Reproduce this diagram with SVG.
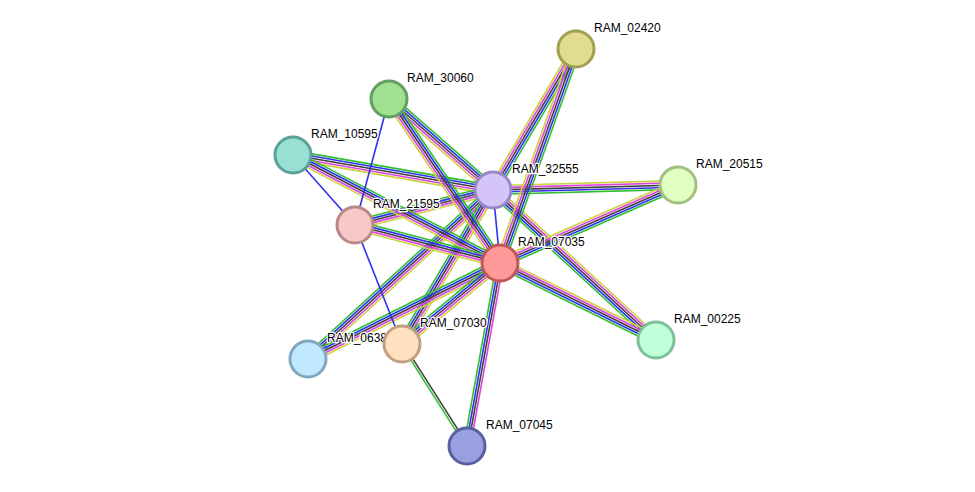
<svg xmlns="http://www.w3.org/2000/svg" xmlns:xlink="http://www.w3.org/1999/xlink" width="975" height="492" viewBox="0 0 975 492">
<style>
.y{stroke:#c8d440}.m{stroke:#e040e0}.k{stroke:#404040}.b{stroke:#3030f0}.g{stroke:#30c030}
use,line{stroke-width:1.6;fill:none}
.n{stroke-width:3}
text{font-family:"Liberation Sans",Arial,sans-serif;font-size:12px;fill:#000;stroke:#fff;stroke-width:2.5px;paint-order:stroke;stroke-linejoin:round}
</style>
<defs>
<line id="e1" x1="493" y1="190" x2="576" y2="49"/>
<line id="e2" x1="493" y1="190" x2="389" y2="99"/>
<line id="e3" x1="493" y1="190" x2="293" y2="155"/>
<line id="e4" x1="493" y1="190" x2="678" y2="185"/>
<line id="e5" x1="493" y1="190" x2="355" y2="225"/>
<line id="e6" x1="493" y1="190" x2="656" y2="340"/>
<line id="e7" x1="493" y1="190" x2="308" y2="359"/>
<line id="e8" x1="493" y1="190" x2="402" y2="344"/>
<line id="e9" x1="500" y1="263" x2="576" y2="49"/>
<line id="e10" x1="500" y1="263" x2="389" y2="99"/>
<line id="e11" x1="500" y1="263" x2="293" y2="155"/>
<line id="e12" x1="500" y1="263" x2="678" y2="185"/>
<line id="e13" x1="500" y1="263" x2="355" y2="225"/>
<line id="e14" x1="500" y1="263" x2="656" y2="340"/>
<line id="e15" x1="500" y1="263" x2="308" y2="359"/>
<line id="e16" x1="500" y1="263" x2="402" y2="344"/>
<line id="e17" x1="500" y1="263" x2="467" y2="446"/>
<line id="e18" x1="402" y1="344" x2="467" y2="446"/>
</defs>
<rect width="975" height="492" fill="#fff"/>
<g id="connectors">
<use href="#e1" class="y" transform="translate(-3.8,-2.24)"/><use href="#e1" class="m" transform="translate(-1.9,-1.12)"/><use href="#e1" class="k"/><use href="#e1" class="b" transform="translate(1.9,1.12)"/><use href="#e1" class="g" transform="translate(3.8,2.24)"/>
<use href="#e2" class="y" transform="translate(-2.9,3.32)"/><use href="#e2" class="m" transform="translate(-1.45,1.66)"/><use href="#e2" class="k"/><use href="#e2" class="b" transform="translate(1.45,-1.66)"/><use href="#e2" class="g" transform="translate(2.9,-3.32)"/>
<use href="#e3" class="y" transform="translate(-0.76,4.34)"/><use href="#e3" class="m" transform="translate(-0.38,2.17)"/><use href="#e3" class="k"/><use href="#e3" class="b" transform="translate(0.38,-2.17)"/><use href="#e3" class="g" transform="translate(0.76,-4.34)"/>
<use href="#e4" class="y" transform="translate(-0.12,-4.4)"/><use href="#e4" class="m" transform="translate(-0.06,-2.2)"/><use href="#e4" class="k"/><use href="#e4" class="b" transform="translate(0.06,2.2)"/><use href="#e4" class="g" transform="translate(0.12,4.4)"/>
<use href="#e5" class="y" transform="translate(1.08,4.26)"/><use href="#e5" class="m" transform="translate(0.54,2.13)"/><use href="#e5" class="k"/><use href="#e5" class="b" transform="translate(-0.54,-2.13)"/><use href="#e5" class="g" transform="translate(-1.08,-4.26)"/>
<use href="#e6" class="y" transform="translate(2.98,-3.24)"/><use href="#e6" class="m" transform="translate(1.49,-1.62)"/><use href="#e6" class="k"/><use href="#e6" class="b" transform="translate(-1.49,1.62)"/><use href="#e6" class="g" transform="translate(-2.98,3.24)"/>
<use href="#e7" class="y" transform="translate(2.96,3.24)"/><use href="#e7" class="m" transform="translate(1.48,1.62)"/><use href="#e7" class="k"/><use href="#e7" class="b" transform="translate(-1.48,-1.62)"/><use href="#e7" class="g" transform="translate(-2.96,-3.24)"/>
<use href="#e8" class="y" transform="translate(3.78,2.24)"/><use href="#e8" class="m" transform="translate(1.89,1.12)"/><use href="#e8" class="k"/><use href="#e8" class="b" transform="translate(-1.89,-1.12)"/><use href="#e8" class="g" transform="translate(-3.78,-2.24)"/>
<use href="#e9" class="y" transform="translate(-4.14,-1.48)"/><use href="#e9" class="m" transform="translate(-2.07,-0.74)"/><use href="#e9" class="k"/><use href="#e9" class="b" transform="translate(2.07,0.74)"/><use href="#e9" class="g" transform="translate(4.14,1.48)"/>
<use href="#e10" class="y" transform="translate(-3.64,2.46)"/><use href="#e10" class="m" transform="translate(-1.82,1.23)"/><use href="#e10" class="k"/><use href="#e10" class="b" transform="translate(1.82,-1.23)"/><use href="#e10" class="g" transform="translate(3.64,-2.46)"/>
<use href="#e11" class="y" transform="translate(-2.04,3.9)"/><use href="#e11" class="m" transform="translate(-1.02,1.95)"/><use href="#e11" class="k"/><use href="#e11" class="b" transform="translate(1.02,-1.95)"/><use href="#e11" class="g" transform="translate(2.04,-3.9)"/>
<use href="#e12" class="y" transform="translate(-1.76,-4.04)"/><use href="#e12" class="m" transform="translate(-0.88,-2.02)"/><use href="#e12" class="k"/><use href="#e12" class="b" transform="translate(0.88,2.02)"/><use href="#e12" class="g" transform="translate(1.76,4.04)"/>
<use href="#e13" class="y" transform="translate(-1.12,4.26)"/><use href="#e13" class="m" transform="translate(-0.56,2.13)"/><use href="#e13" class="k"/><use href="#e13" class="b" transform="translate(0.56,-2.13)"/><use href="#e13" class="g" transform="translate(1.12,-4.26)"/>
<use href="#e14" class="y" transform="translate(1.94,-3.94)"/><use href="#e14" class="m" transform="translate(0.97,-1.97)"/><use href="#e14" class="k"/><use href="#e14" class="b" transform="translate(-0.97,1.97)"/><use href="#e14" class="g" transform="translate(-1.94,3.94)"/>
<use href="#e15" class="y" transform="translate(1.96,3.94)"/><use href="#e15" class="m" transform="translate(0.98,1.97)"/><use href="#e15" class="k"/><use href="#e15" class="b" transform="translate(-0.98,-1.97)"/><use href="#e15" class="g" transform="translate(-1.96,-3.94)"/>
<use href="#e16" class="y" transform="translate(2.8,3.4)"/><use href="#e16" class="m" transform="translate(1.4,1.7)"/><use href="#e16" class="k"/><use href="#e16" class="b" transform="translate(-1.4,-1.7)"/><use href="#e16" class="g" transform="translate(-2.8,-3.4)"/>
<use href="#e17" class="m" transform="translate(3.24,0.58)"/><use href="#e17" class="k" transform="translate(1.08,0.2)"/><use href="#e17" class="b" transform="translate(-1.08,-0.2)"/><use href="#e17" class="g" transform="translate(-3.24,-0.58)"/>
<use href="#e18" class="k" transform="translate(1.0,-0.6)"/><use href="#e18" class="g" transform="translate(-1.0,0.6)"/>
<line class="b" x1="493" y1="190" x2="500" y2="263"/>
<line class="b" x1="389" y1="99" x2="355" y2="225"/>
<line class="b" x1="293" y1="155" x2="355" y2="225"/>
<line class="b" x1="355" y1="225" x2="402" y2="344"/>
</g>
<g id="RAM_02420"><circle class="n" cx="576" cy="49" r="18" fill="#e0dc90" stroke="#a0a050"/><text x="594" y="32">RAM_02420</text></g>
<g id="RAM_30060"><circle class="n" cx="389" cy="99" r="18" fill="#a0e090" stroke="#60a060"/><text x="407" y="82">RAM_30060</text></g>
<g id="RAM_10595"><circle class="n" cx="293" cy="155" r="18" fill="#98e0d4" stroke="#5aa098"/><text x="311" y="138">RAM_10595</text></g>
<g id="RAM_32555"><circle class="n" cx="493" cy="190" r="18" fill="#d4c4f8" stroke="#9888c8"/><text x="512" y="173">RAM_32555</text></g>
<g id="RAM_20515"><circle class="n" cx="678" cy="185" r="18" fill="#e0ffc0" stroke="#a0c080"/><text x="696" y="168">RAM_20515</text></g>
<g id="RAM_21595"><circle class="n" cx="355" cy="225" r="18" fill="#f8c8c8" stroke="#b88888"/><text x="373" y="208">RAM_21595</text></g>
<g id="RAM_07035"><circle class="n" cx="500" cy="263" r="18" fill="#ff9898" stroke="#c05858"/><text x="518" y="246">RAM_07035</text></g>
<g id="RAM_00225"><circle class="n" cx="656" cy="340" r="18" fill="#c0ffd8" stroke="#80c098"/><text x="674" y="323">RAM_00225</text></g>
<g id="RAM_06385"><circle class="n" cx="308" cy="359" r="18" fill="#c0e8ff" stroke="#80a8c0"/><text x="327" y="342">RAM_06385</text></g>
<g id="RAM_07030"><circle class="n" cx="402" cy="344" r="18" fill="#ffe0c0" stroke="#c0a080"/><text x="420" y="327">RAM_07030</text></g>
<g id="RAM_07045"><circle class="n" cx="467" cy="446" r="18" fill="#98a0e0" stroke="#5860a0"/><text x="486" y="429">RAM_07045</text></g>
</svg>
